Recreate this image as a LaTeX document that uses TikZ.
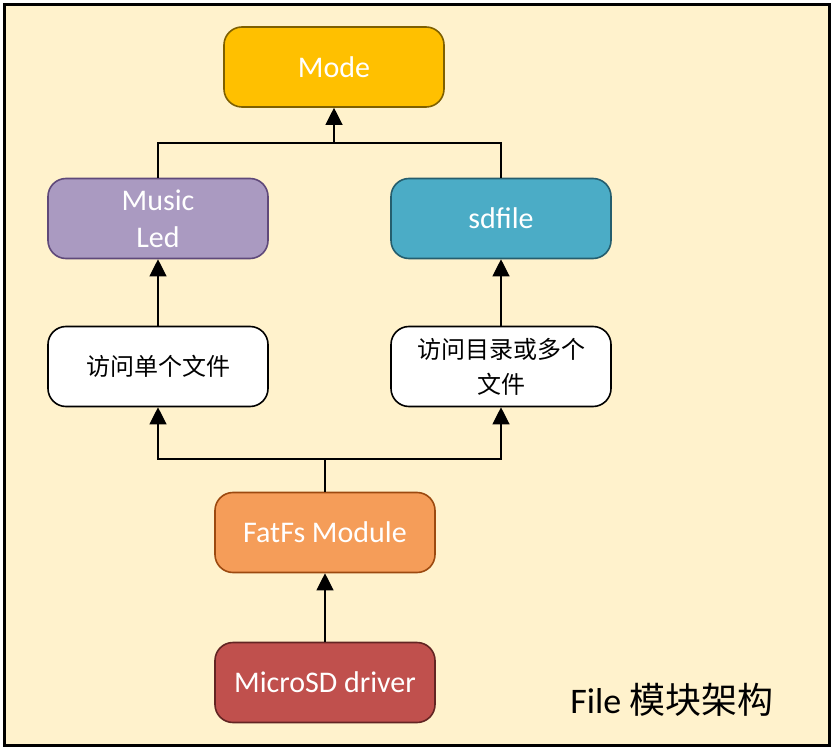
\documentclass[tikz,border=0pt]{standalone}
\usepackage{fontspec}
\setmainfont{Carlito}
\newfontfamily\cjk{Noto Sans CJK SC}
\usetikzlibrary{arrows.meta}

\definecolor{bgyellow}{HTML}{FFF2CC}
\definecolor{modefill}{HTML}{FFC000}
\definecolor{modedraw}{HTML}{7F6000}
\definecolor{musicfill}{HTML}{AA9AC1}
\definecolor{musicdraw}{HTML}{5F497A}
\definecolor{sdfill}{HTML}{4BACC6}
\definecolor{sddraw}{HTML}{255E6E}
\definecolor{fatfill}{HTML}{F59D59}
\definecolor{fatdraw}{HTML}{9C4A10}
\definecolor{microfill}{HTML}{C0504D}
\definecolor{microdraw}{HTML}{632523}

\begin{document}
\begin{tikzpicture}[x=1pt, y=-1pt, >={Triangle[length=17pt,width=17pt]},
    box/.style={draw, rounded corners=18pt, line width=1.6pt, minimum width=220pt,
      minimum height=80pt, align=center, text=white, font=\fontsize{30}{37}\selectfont},
    whitebox/.style={box, fill=white, draw=black, text=black, font=\cjk\fontsize{24}{35}\selectfont},
    link/.style={line width=1.2pt}]
    \useasboundingbox (0,0) rectangle (835,751);

    % Background
    \draw[line width=3pt, fill=bgyellow] (4.5,4.5) rectangle (829.5,745.5);

    % Boxes
    \node[box, fill=modefill, draw=modedraw] (mode) at (334,67) {Mode};
    \node[box, fill=musicfill, draw=musicdraw] (music) at (158,218.5) {Music\\Led};
    \node[box, fill=sdfill, draw=sddraw] (sdfile) at (501,218.5) {sdfile};
    \node[whitebox] (single) at (158,366.5) {访问单个文件};
    \node[whitebox] (multi) at (501,366.5) {访问目录或多个\\文件};
    \node[box, fill=fatfill, draw=fatdraw] (fatfs) at (325,532.5) {FatFs Module};
    \node[box, fill=microfill, draw=microdraw] (microsd) at (325,682.5) {MicroSD driver};

    % Title
    \node[font=\fontsize{36}{40}\selectfont] (title) at (672,700) {File {\cjk 模块架构}};

    % Connectors
    \coordinate (topjoin) at (334,143);
    \coordinate (midjoin) at (325,459);
    \draw[link] (music.north) |- (topjoin) -| (sdfile.north);
    \draw[link,->] (topjoin) -- (mode.south);
    \draw[link,->] (single.north) -- (music.south);
    \draw[link,->] (multi.north) -- (sdfile.south);
    \draw[link] (fatfs.north) -- (midjoin);
    \draw[link,->] (midjoin) -| (single.south);
    \draw[link,->] (midjoin) -| (multi.south);
    \draw[link,->] (microsd.north) -- (fatfs.south);
\end{tikzpicture}
\end{document}
